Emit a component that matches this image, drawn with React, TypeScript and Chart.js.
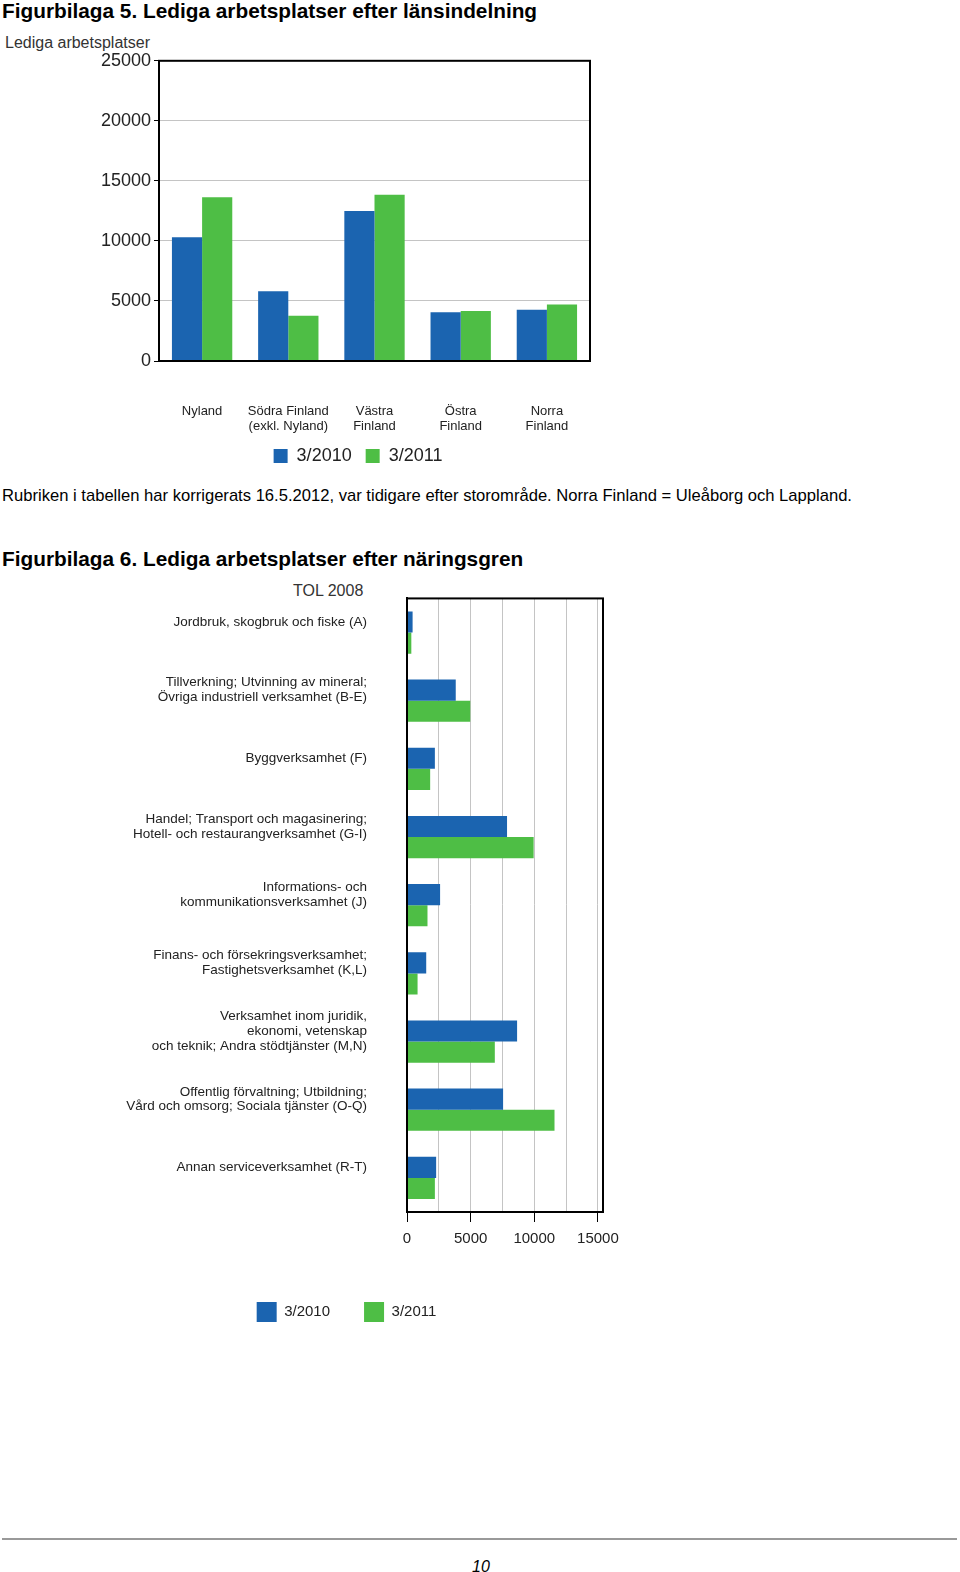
import React, { useEffect, useRef } from 'react';
import { Chart, registerables } from 'chart.js';

Chart.register(...registerables);

const FONT = '"Liberation Sans", Arial, sans-serif';
Chart.defaults.font.family = FONT;

// ---- Data: Figurbilaga 5 ----
const regionLabels: (string | string[])[] = [
  'Nyland',
  ['Södra Finland', '(exkl. Nyland)'],
  ['Västra', 'Finland'],
  ['Östra', 'Finland'],
  ['Norra', 'Finland'],
];
const regions2010 = [10300, 5800, 12500, 4070, 4270];
const regions2011 = [13640, 3770, 13850, 4160, 4710];
const regionTicks = [0, 5000, 10000, 15000, 20000, 25000];

// ---- Data: Figurbilaga 6 ----
const sectorLabels: (string | string[])[] = [
  'Jordbruk, skogbruk och fiske (A)',
  ['Tillverkning; Utvinning av mineral;', 'Övriga industriell verksamhet (B-E)'],
  'Byggverksamhet (F)',
  ['Handel; Transport och magasinering;', 'Hotell- och restaurangverksamhet (G-I)'],
  ['Informations- och', 'kommunikationsverksamhet (J)'],
  ['Finans- och försekringsverksamhet;', 'Fastighetsverksamhet (K,L)'],
  ['Verksamhet inom juridik,', 'ekonomi, vetenskap', 'och teknik; Andra stödtjänster (M,N)'],
  ['Offentlig förvaltning; Utbildning;', 'Vård och omsorg; Sociala tjänster (O-Q)'],
  'Annan serviceverksamhet (R-T)',
];
const sectors2010 = [440, 3830, 2190, 7860, 2600, 1510, 8650, 7550, 2290];
const sectors2011 = [340, 4970, 1820, 9950, 1610, 830, 6900, 11590, 2190];
const sectorGridTicks = [0, 2500, 5000, 7500, 10000, 12500, 15000];
const sectorLabelStep = 5000;

const seriesNames = ['3/2010', '3/2011'];
const BLUE = '#1b64b0';
const GREEN = '#4ebe45';
const TEXT = '#222';

const framePlugin = {
  id: 'frame',
  afterDatasetsDraw(chart: any) {
    const { ctx, chartArea } = chart;
    const { left, top, right, bottom } = chartArea;
    ctx.save();
    ctx.strokeStyle = '#000';
    ctx.lineWidth = 2;
    ctx.strokeRect(left, top, right - left, bottom - top);
    ctx.restore();
  },
};

// invisible spacer scale on the right (reserves room so the legend can centre like the original)
const spacer = (w: number) => ({
  type: 'linear',
  position: 'right',
  display: true,
  grid: { display: false, drawTicks: false },
  ticks: { display: false },
  border: { display: false },
  afterFit(s: any) { s.width = w; },
});

function RegionChart() {
  const ref = useRef<HTMLCanvasElement>(null);
  useEffect(() => {
    const chart = new Chart(ref.current!, {
      type: 'bar',
      data: {
        labels: regionLabels,
        datasets: [
          { label: seriesNames[0], data: regions2010, backgroundColor: BLUE, categoryPercentage: 0.7, barPercentage: 1 },
          { label: seriesNames[1], data: regions2011, backgroundColor: GREEN, categoryPercentage: 0.7, barPercentage: 1 },
        ],
      },
      options: {
        responsive: false,
        animation: false,
        devicePixelRatio: 1,
        layout: { padding: 0 },
        plugins: {
          legend: {
            position: 'bottom',
            labels: { boxWidth: 14, boxHeight: 14, padding: 14, color: TEXT, font: { size: 18, family: FONT } },
          },
          tooltip: { enabled: false },
        },
        scales: {
          x: {
            grid: { display: false, drawTicks: false },
            border: { display: true, color: '#000', width: 2 },
            ticks: { color: TEXT, font: { size: 13, family: FONT, lineHeight: 1.15 }, padding: 43, maxRotation: 0, autoSkip: false },
            afterFit(s: any) { s.height = 72; },
          },
          y: {
            min: regionTicks[0],
            max: regionTicks[regionTicks.length - 1],
            afterBuildTicks(s: any) { s.ticks = regionTicks.map((v) => ({ value: v })); },
            ticks: { color: TEXT, font: { size: 18, family: FONT }, padding: 3, callback: (v: any) => String(v) },
            grid: { color: '#c4c4c4', tickLength: 5, tickColor: '#000' },
            border: { display: true, color: '#000', width: 2 },
            afterFit(s: any) { s.width = 159; },
          },
          yRight: spacer(126),
        },
      },
      plugins: [framePlugin],
    } as any);
    return () => chart.destroy();
  }, []);
  return <canvas ref={ref} width={716} height={428} style={{ position: 'absolute', left: 0, top: 47, width: 716, height: 428 }} />;
}

function SectorChart() {
  const ref = useRef<HTMLCanvasElement>(null);
  useEffect(() => {
    const chart = new Chart(ref.current!, {
      type: 'bar',
      data: {
        labels: sectorLabels,
        datasets: [
          { label: seriesNames[0], data: sectors2010, backgroundColor: BLUE, categoryPercentage: 0.62, barPercentage: 1 },
          { label: seriesNames[1], data: sectors2011, backgroundColor: GREEN, categoryPercentage: 0.62, barPercentage: 1 },
        ],
      },
      options: {
        indexAxis: 'y',
        responsive: false,
        animation: false,
        devicePixelRatio: 1,
        layout: { padding: 0 },
        plugins: {
          legend: {
            position: 'bottom',
            labels: { boxWidth: 20, boxHeight: 20, padding: 34, color: TEXT, font: { size: 15, family: FONT } },
          },
          tooltip: { enabled: false },
        },
        scales: {
          x: {
            min: 0,
            max: 15400,
            afterBuildTicks(s: any) { s.ticks = sectorGridTicks.map((v) => ({ value: v })); },
            ticks: {
              autoSkip: false,
              maxRotation: 0,
              color: TEXT,
              font: { size: 15, family: FONT },
              padding: 8,
              callback: (v: any) => (Number(v) % sectorLabelStep === 0 ? String(v) : ''),
            },
            grid: {
              color: '#c4c4c4',
              tickLength: 10,
              tickColor: (c: any) => (c.tick && c.tick.value % sectorLabelStep === 0 ? '#000' : 'rgba(0,0,0,0)'),
            },
            border: { display: true, color: '#000', width: 2 },
            afterFit(s: any) { s.height = 56; },
          },
          y: {
            grid: { display: false, drawTicks: false },
            border: { display: true, color: '#000', width: 2 },
            ticks: { color: TEXT, font: { size: 13.5, family: FONT, lineHeight: 1.1 }, padding: 40, labelOffset: -10.5, autoSkip: false },
            afterFit(s: any) { s.width = 347; },
          },
          yRight: spacer(30),
        },
      },
      plugins: [framePlugin],
    } as any);
    return () => chart.destroy();
  }, []);
  return <canvas ref={ref} width={573} height={781} style={{ position: 'absolute', left: 60, top: 551, width: 573, height: 781 }} />;
}

const abs = (left: number, top: number, extra: React.CSSProperties = {}): React.CSSProperties => ({
  position: 'absolute', left, top, whiteSpace: 'nowrap', lineHeight: 1, margin: 0, ...extra,
});

export default function App() {
  return (
    <div style={{ position: 'absolute', left: 0, top: 0, width: 960, height: 1572, background: '#fff', fontFamily: FONT, color: '#000' }}>
      <div style={abs(2, 1, { fontSize: 20.8, fontWeight: 'bold' })}>Figurbilaga 5. Lediga arbetsplatser efter länsindelning</div>
      <div style={abs(5, 35, { fontSize: 16, color: '#333' })}>Lediga arbetsplatser</div>
      <div style={abs(2, 488, { fontSize: 16.6 })}>Rubriken i tabellen har korrigerats 16.5.2012, var tidigare efter storområde. Norra Finland = Uleåborg och Lappland.</div>
      <div style={abs(2, 549, { fontSize: 20.8, fontWeight: 'bold' })}>Figurbilaga 6. Lediga arbetsplatser efter näringsgren</div>
      <div style={abs(293, 583, { fontSize: 16, color: '#333' })}>TOL 2008</div>
      <RegionChart />
      <SectorChart />
      <div style={{ position: 'absolute', left: 2, top: 1538, width: 955, height: 2, background: '#999' }} />
      <div style={abs(472, 1559, { fontSize: 16, fontStyle: 'italic' })}>10</div>
    </div>
  );
}
